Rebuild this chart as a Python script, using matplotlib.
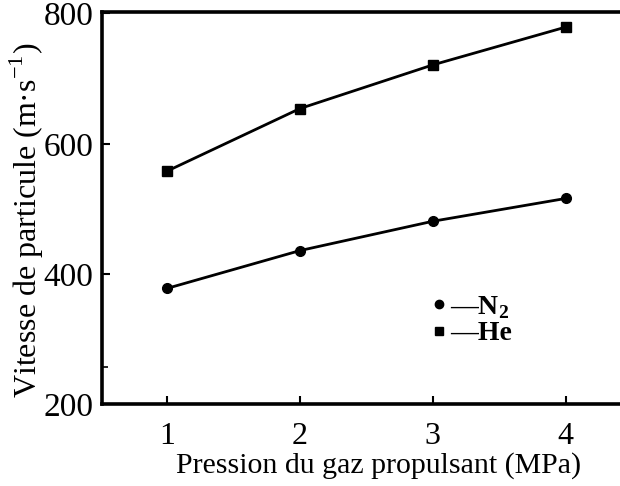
import numpy as np
import matplotlib
matplotlib.use("Agg")
import matplotlib.pyplot as plt
from matplotlib.lines import Line2D
from matplotlib.ticker import FixedLocator

# Données
pression = [1, 2, 3, 4]
vitesse_n2 = [378, 436, 481, 516]
vitesse_he = [558, 654, 721, 779]
yticks = [200, 400, 600, 800]

plt.rcParams['font.family'] = ['Liberation Serif', 'DejaVu Serif']
plt.rcParams['mathtext.fontset'] = 'custom'
plt.rcParams['mathtext.rm'] = 'Liberation Serif'
plt.rcParams['mathtext.bf'] = 'Liberation Serif:bold'

fig = plt.figure(figsize=(6.2, 4.86), dpi=100)
ax = fig.add_axes([0.1645, 0.168, 0.8355, 0.807])

ax.plot(pression, vitesse_n2, color='black', lw=2.0, marker='o', ms=7)
ax.plot(pression, vitesse_he, color='black', lw=2.0, marker='s', ms=7)

ax.set_xlim(0.51, 4.41)
ax.set_ylim(200, 802)
ax.set_xticks(pression)
ax.set_yticks(yticks)
ax.yaxis.set_minor_locator(FixedLocator([258]))
ax.tick_params(direction='in', length=6, width=1.5, labelsize=24, pad=6)
ax.tick_params(axis='x', labelsize=23, pad=13)
ax.tick_params(which='minor', direction='in', length=4, width=1.2)

for s in ['left', 'top', 'bottom']:
    ax.spines[s].set_linewidth(2.6)
ax.spines['right'].set_visible(False)

ax.set_xlabel('Pression du gaz propulsant (MPa)', fontsize=21.5)
ax.xaxis.set_label_coords(0.533, -0.122)
ax.set_ylabel('Vitesse de particule (m·s$^{-1}$)', fontsize=23)
ax.yaxis.set_label_coords(-0.108, 0.47)

handles = [Line2D([], [], color='black', marker='o', ls='none', ms=6),
           Line2D([], [], color='black', marker='s', ls='none', ms=6)]
ax.legend(handles, ['—N$_\\mathbf{2}$', '—He'], loc='upper left', bbox_to_anchor=(0.589, 0.345),
          frameon=False, handlelength=0.5, handletextpad=0.15, labelspacing=0.0,
          prop={'size': 20, 'weight': 'bold'})

fig.savefig('out.png', dpi=100)
